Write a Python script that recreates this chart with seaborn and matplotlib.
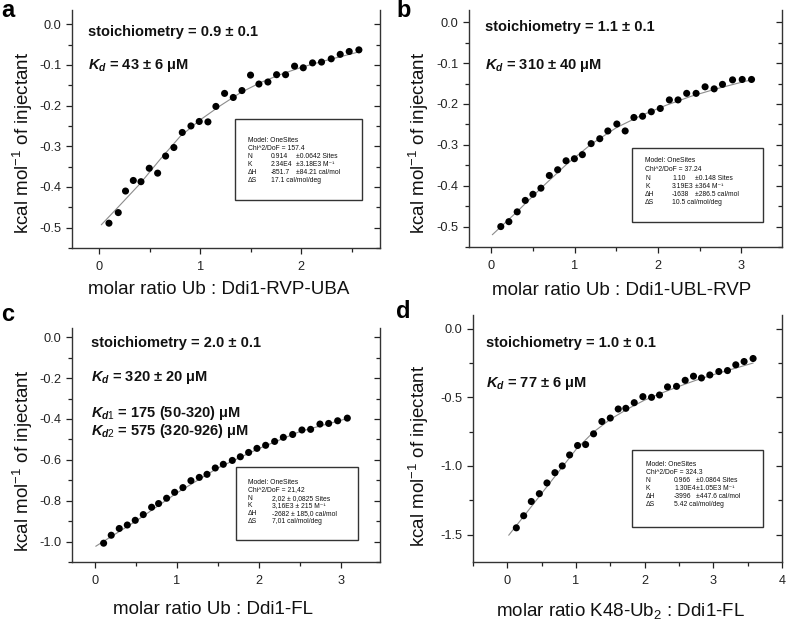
import matplotlib
matplotlib.use('Agg')
import matplotlib.pyplot as plt
from matplotlib.ticker import MultipleLocator, FormatStrFormatter
from matplotlib.patches import Rectangle
import seaborn as sns

# DATA ##

# a: Ub : Ddi1-RVP-UBA
a_x = [0.096, 0.188, 0.26, 0.337, 0.413, 0.495, 0.578, 0.657, 0.739, 0.822,
       0.908, 0.990, 1.076, 1.155, 1.241, 1.327, 1.413, 1.498, 1.581, 1.670,
       1.756, 1.845, 1.934, 2.020, 2.112, 2.201, 2.297, 2.386, 2.475, 2.571]
a_y = [-0.489, -0.463, -0.410, -0.384, -0.387, -0.354, -0.366, -0.324, -0.303, -0.266,
       -0.250, -0.239, -0.240, -0.202, -0.170, -0.180, -0.163, -0.125, -0.147, -0.142,
       -0.124, -0.124, -0.103, -0.107, -0.095, -0.093, -0.085, -0.074, -0.067, -0.063]
a_fit_x = [0.02, 0.2, 0.4, 0.6, 0.8, 1.0, 1.2, 1.4, 1.6, 1.8, 2.0, 2.2, 2.4, 2.57]
a_fit_y = [-0.493, -0.446, -0.393, -0.333, -0.276, -0.235, -0.200, -0.168, -0.143,
           -0.123, -0.106, -0.092, -0.079, -0.068]

# b: Ub : Ddi1-UBL-RVP
b_x = [0.112, 0.209, 0.309, 0.406, 0.498, 0.594, 0.695, 0.795, 0.896, 0.996,
       1.092, 1.197, 1.301, 1.398, 1.506, 1.606, 1.711, 1.815, 1.920, 2.028,
       2.137, 2.241, 2.345, 2.458, 2.566, 2.675, 2.775, 2.896, 3.012, 3.124]
b_y = [-0.500, -0.488, -0.464, -0.436, -0.421, -0.406, -0.375, -0.361, -0.339, -0.334,
       -0.324, -0.297, -0.285, -0.266, -0.249, -0.266, -0.233, -0.230, -0.219, -0.211,
       -0.190, -0.190, -0.174, -0.174, -0.158, -0.163, -0.152, -0.141, -0.140, -0.140]
b_fit_x = [0.01, 0.3, 0.6, 0.9, 1.2, 1.5, 1.8, 2.1, 2.4, 2.7, 3.0, 3.12]
b_fit_y = [-0.520, -0.465, -0.405, -0.348, -0.298, -0.258, -0.228, -0.203, -0.181,
           -0.163, -0.147, -0.141]

# c: Ub : Ddi1-FL
c_x = [0.106, 0.199, 0.297, 0.395, 0.492, 0.590, 0.692, 0.777, 0.875, 0.973,
       1.074, 1.172, 1.274, 1.368, 1.469, 1.567, 1.677, 1.775, 1.876, 1.978,
       2.084, 2.194, 2.300, 2.414, 2.527, 2.633, 2.747, 2.853, 2.963, 3.081]
c_y = [-1.008, -0.969, -0.936, -0.919, -0.896, -0.868, -0.832, -0.814, -0.788, -0.759,
       -0.736, -0.702, -0.686, -0.671, -0.640, -0.622, -0.603, -0.585, -0.564, -0.544,
       -0.529, -0.510, -0.490, -0.476, -0.454, -0.451, -0.425, -0.422, -0.409, -0.396]
c_fit_x = [0.01, 0.5, 1.0, 1.5, 2.0, 2.5, 3.08]
c_fit_y = [-1.023, -0.900, -0.762, -0.640, -0.545, -0.462, -0.398]

# d: K48-Ub2 : Ddi1-FL
d_x = [0.131, 0.238, 0.349, 0.466, 0.577, 0.693, 0.800, 0.907, 1.023, 1.140,
       1.256, 1.377, 1.499, 1.615, 1.726, 1.848, 1.974, 2.100, 2.216, 2.333,
       2.464, 2.590, 2.711, 2.827, 2.949, 3.080, 3.206, 3.327, 3.448, 3.579]
d_y = [-1.451, -1.363, -1.259, -1.202, -1.124, -1.049, -1.000, -0.920, -0.851, -0.844,
       -0.766, -0.676, -0.651, -0.585, -0.580, -0.539, -0.495, -0.500, -0.483, -0.424,
       -0.420, -0.376, -0.346, -0.359, -0.337, -0.312, -0.305, -0.263, -0.239, -0.217]
d_fit_x = [0.02, 0.25, 0.5, 0.75, 1.0, 1.25, 1.5, 1.75, 2.0, 2.25, 2.5, 2.75, 3.0,
           3.25, 3.58]
d_fit_y = [-1.505, -1.360, -1.200, -1.040, -0.880, -0.755, -0.660, -0.585, -0.520,
           -0.468, -0.420, -0.375, -0.335, -0.298, -0.250]

# Fit results printed in each panel
a_fit_rows = [['N', '0.914', '±0.0642 Sites'], ['K', '2.34E4', '±3.18E3 M⁻¹'],
              ['ΔH', '-851.7', '±84.21 cal/mol'], ['ΔS', '17.1 cal/mol/deg', '']]
b_fit_rows = [['N', '1.10', '±0.148 Sites'], ['K', '3.19E3', '±364 M⁻¹'],
              ['ΔH', '-1638', '±286.5 cal/mol'], ['ΔS', '10.5 cal/mol/deg', '']]
c_fit_rows = [['N', '2,02 ± 0,0825 Sites', ''], ['K', '3,16E3 ± 215 M⁻¹', ''],
              ['ΔH', '-2682 ± 185,0 cal/mol', ''], ['ΔS', '7,01 cal/mol/deg', '']]
d_fit_rows = [['N', '0.966', '±0.0864 Sites'], ['K', '1.30E4', '±1.05E3 M⁻¹'],
              ['ΔH', '-3996', '±447.6 cal/mol'], ['ΔS', '5.42 cal/mol/deg', '']]

# STYLE ##
sns.set_theme(style='ticks')
plt.rcParams['font.family'] = ['Liberation Sans', 'DejaVu Sans']
plt.rcParams['axes.unicode_minus'] = False
plt.rcParams['mathtext.fontset'] = 'custom'
plt.rcParams['mathtext.rm'] = 'Liberation Sans'
plt.rcParams['mathtext.it'] = 'Liberation Sans:italic:bold'
plt.rcParams['mathtext.bf'] = 'Liberation Sans:bold'

W, H = 787, 624
fig = plt.figure(figsize=(W / 100, H / 100), dpi=100)


def px(x, y):
    # pixel position (from top-left) -> figure fraction
    return x / W, 1 - y / H


def draw_panel(box, x, y, fx, fy, xlim, ylim, xmaj, ymaj, xlabel, ylab_pos, xlab_pos):
    l, t, r, b = box
    ax = fig.add_axes([l / W, 1 - b / H, (r - l) / W, (b - t) / H])
    sns.lineplot(x=fx, y=fy, ax=ax, color='#8c8c8c', lw=0.8, sort=False, estimator=None)
    sns.scatterplot(x=x, y=y, ax=ax, color='black', s=26, edgecolor='none', zorder=3)
    ax.set_xlim(*xlim)
    ax.set_ylim(*ylim)

    ax.xaxis.set_major_locator(MultipleLocator(xmaj))
    ax.xaxis.set_minor_locator(MultipleLocator(xmaj / 2))
    ax.yaxis.set_major_locator(MultipleLocator(ymaj))
    ax.yaxis.set_minor_locator(MultipleLocator(ymaj / 2))
    ax.yaxis.set_major_formatter(FormatStrFormatter('%.1f'))
    ax.xaxis.set_major_formatter(FormatStrFormatter('%d'))
    ax.tick_params(which='both', direction='out', colors='#222222', width=0.9,
                   labelsize=9.2, labelcolor='#222222')
    ax.tick_params(which='major', length=4.5)
    ax.tick_params(which='minor', length=2.8)
    ax.tick_params(axis='x', pad=5)
    ax.tick_params(axis='y', pad=3)

    for side in ['top', 'right']:
        ax.spines[side].set_visible(False)
    for side in ['left', 'bottom']:
        ax.spines[side].set_linewidth(1.0)
        ax.spines[side].set_color('#333333')

    # right axis: ticks pointing in, no labels
    sec = ax.secondary_yaxis('right')
    sec.yaxis.set_major_locator(MultipleLocator(ymaj))
    sec.yaxis.set_minor_locator(MultipleLocator(ymaj / 2))
    sec.tick_params(which='both', direction='in', labelright=False, colors='#222222', width=0.9)
    sec.tick_params(which='major', length=4.5)
    sec.tick_params(which='minor', length=2.8)
    sec.spines['right'].set_linewidth(1.0)
    sec.spines['right'].set_color('#333333')

    ax.set_ylabel('kcal mol$^{-1}$ of injectant', fontsize=13.5, color='#111111')
    ax.yaxis.set_label_coords(*ylab_pos)
    ax.set_xlabel(xlabel, fontsize=13.5, color='#111111')
    ax.xaxis.set_label_coords(*xlab_pos)
    return ax


def info_box(l, t, r, b, chi, rows, cols, top_line, step):
    fig.add_artist(Rectangle(px(l, b), (r - l) / W, (b - t) / H, transform=fig.transFigure,
                             fill=False, edgecolor='#333333', lw=1.0))
    kw = dict(fontsize=4.9, va='center', color='#111111')
    fig.text(*px(cols[0], top_line), 'Model: OneSites', **kw)
    fig.text(*px(cols[0], top_line + step), 'Chi^2/DoF = ' + chi, **kw)
    for i, row in enumerate(rows):
        yy = top_line + step * (i + 2) + 0.5
        for j, cell in enumerate(row):
            if cell:
                fig.text(*px(cols[j], yy), cell, **kw)


big = dict(fontsize=10.5, fontweight='bold', va='center', color='#111111')

# a
draw_panel((72, 10, 380, 248), a_x, a_y, a_fit_x, a_fit_y, (-0.27, 2.78), (-0.55, 0.035),
           1, 0.1, 'molar ratio Ub : Ddi1-RVP-UBA', (-0.12, 0.44), (0.477, -0.14))
fig.text(*px(88, 32), 'stoichiometry = 0.9 ± 0.1', **big)
fig.text(*px(88, 66), '$K_d$ = 43 ± 6 μM', **big)
info_box(235, 119, 362, 200, '157.4', a_fit_rows, [248, 271, 296], 140, 8.0)

# b
draw_panel((469, 10, 782, 247), b_x, b_y, b_fit_x, b_fit_y, (-0.27, 3.49), (-0.55, 0.03),
           1, 0.1, 'molar ratio Ub : Ddi1-UBL-RVP', (-0.12, 0.44), (0.489, -0.148))
fig.text(*px(485, 27), 'stoichiometry = 1.1 ± 0.1', **big)
fig.text(*px(485, 66), '$K_d$ = 310 ± 40 μM', **big)
info_box(632, 148, 763, 222, '37.24', b_fit_rows, [645, 672, 695], 161, 8.3)

# c
draw_panel((72, 328, 380, 562), c_x, c_y, c_fit_x, c_fit_y, (-0.28, 3.48), (-1.1, 0.045),
           1, 0.2, 'molar ratio Ub : Ddi1-FL', (-0.12, 0.43), (0.458, -0.168))
fig.text(*px(91, 343), 'stoichiometry = 2.0 ± 0.1', **big)
fig.text(*px(91, 377), '$K_d$ = 320 ± 20 μM', **big)
fig.text(*px(91, 413), r'$K_{\mathit{d1}}$ = 175 (50-320) μM', **big)
fig.text(*px(91, 431), r'$K_{\mathit{d2}}$ = 575 (320-926) μM', **big)
info_box(236, 467, 358, 540, '21,42', c_fit_rows, [248, 272], 482, 7.8)

# d
draw_panel((473, 315, 782, 562), d_x, d_y, d_fit_x, d_fit_y, (-0.5, 4.0), (-1.7, 0.1),
           1, 0.5, 'molar ratio K48-Ub$_2$ : Ddi1-FL', (-0.137, 0.43), (0.476, -0.158))
fig.text(*px(486, 343), 'stoichiometry = 1.0 ± 0.1', **big)
fig.text(*px(486, 384), '$K_d$ = 77 ± 6 μM', **big)
info_box(632, 450, 763, 527, '324.3', d_fit_rows, [646, 674, 696], 464, 8.0)

# panel letters
for letter, (lx, ly) in zip('abcd', [(1, 17), (396, 17), (1, 321), (396, 318)]):
    fig.text(*px(lx, ly), letter, fontsize=17, fontweight='bold', va='baseline', color='black')

plt.savefig('out.png', dpi=100)
plt.close()
